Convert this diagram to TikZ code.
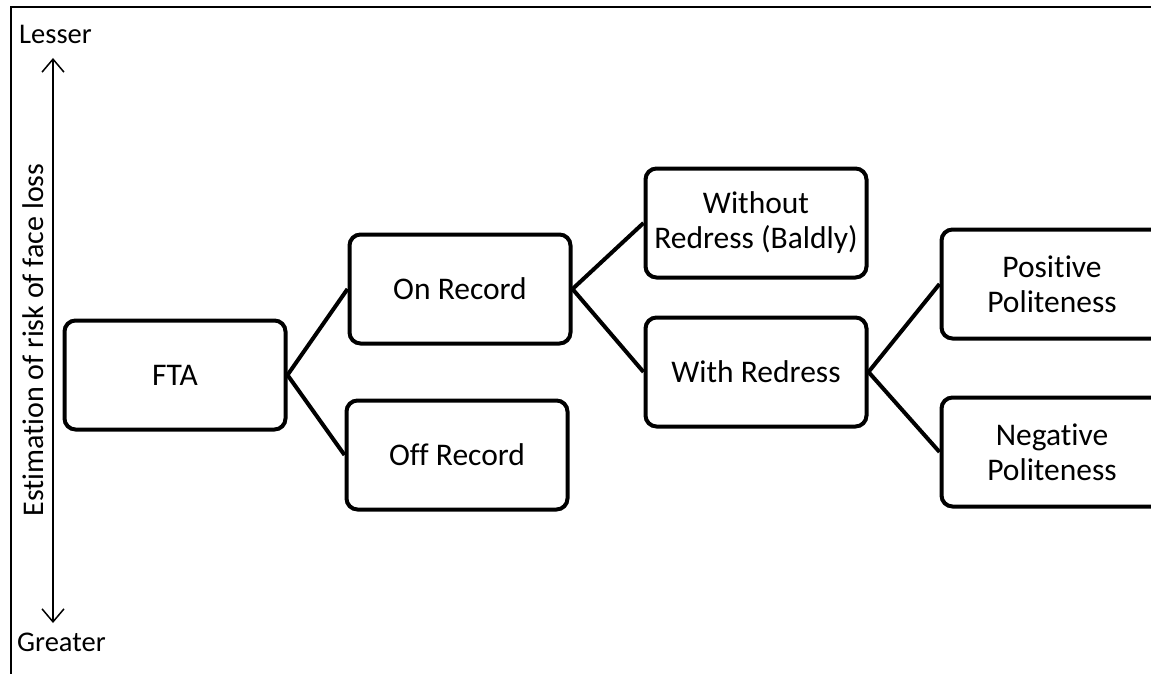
\documentclass[tikz,border=0pt]{standalone}
\usepackage{fontspec}
\setmainfont{Carlito}[Ligatures=NoCommon]
\usetikzlibrary{arrows.meta}
\tikzset{
  boxnode/.style={draw, line width=4pt, rounded corners=11pt, minimum width=221pt, minimum height=109pt, align=center, inner sep=0pt, font=\fontsize{31.5}{35}\selectfont},
  link/.style={line width=4pt},
  axislabel/.style={inner sep=0pt, font=\fontsize{28.5}{32}\selectfont},
}
\begin{document}
\begin{tikzpicture}[x=1pt,y=-1pt]
\useasboundingbox (0,0) rectangle (1151,674);
\clip (0,0) rectangle (1151,674);
\fill[white] (0,0) rectangle (1151,674);
\draw[line width=2pt] (11,680) -- (11,7) -- (1160,7);
\node[boxnode] (fta) at (175,375) {FTA};
\node[boxnode] (on) at (460,289) {On Record};
\node[boxnode] (off) at (457,455) {Off Record};
\node[boxnode] (without) at (756,223) {Without\\Redress (Baldly)};
\node[boxnode] (with) at (756,372) {With Redress};
\node[boxnode] (pos) at (1052,284) {Positive\\Politeness};
\node[boxnode] (neg) at (1052,452) {Negative\\Politeness};
\draw[link] (fta.east) -- (on.west);
\draw[link] (fta.east) -- (off.west);
\draw[link] (on.east) -- (without.west);
\draw[link] (on.east) -- (with.west);
\draw[link] (with.east) -- (pos.west);
\draw[link] (with.east) -- (neg.west);
\coordinate (atop) at (53,58);
\coordinate (abot) at (53,623);
\draw[line width=1.5pt, {Straight Barb[length=13pt,width=22pt]}-{Straight Barb[length=13pt,width=22pt]}] (atop) -- (abot);
\node[axislabel, anchor=base west] (lesser) at (19,44) {Lesser};
\node[axislabel, anchor=base west] (greater) at (17,651) {Greater};
\node[inner sep=0pt, anchor=base, rotate=90, font=\fontsize{30}{34}\selectfont] (est) at (43,340) {Estimation of risk of face loss};
\end{tikzpicture}
\end{document}
